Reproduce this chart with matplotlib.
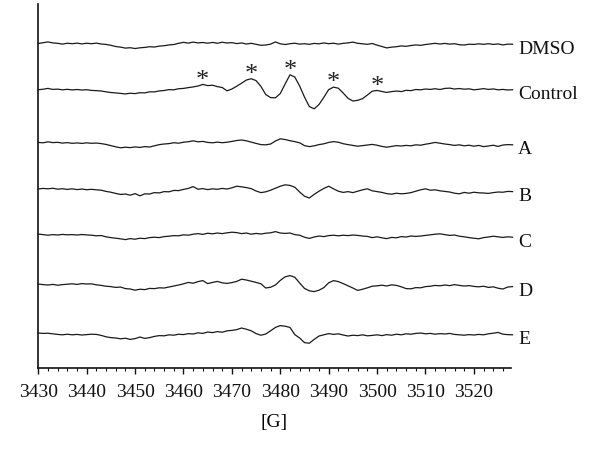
import numpy as np
import matplotlib
matplotlib.use('Agg')
import matplotlib.pyplot as plt
from matplotlib.ticker import MultipleLocator

# ----- DADOS (desvio de cada espectro em relação à sua linha de base)
campo = np.arange(3430, 3529)  # [G], passo de 1 G

dmso = [
    0.0, 0.8, 1.6, 0.6, 0.2, -0.6, 0.3, -0.2, 0.4, -0.4,
    0.3, -0.2, 0.4, -0.5, -0.9, -1.8, -3.0, -3.6, -4.6, -4.2,
    -5.0, -4.3, -3.9, -3.2, -3.5, -2.6, -2.2, -1.4, -1.0, 0.2,
    1.2, 0.4, 1.4, 0.6, 1.0, 0.3, 1.1, 0.2, 1.3, 0.5,
    0.9, -0.1, 0.6, -0.5, 0.2, -0.8, -1.8, -1.5, -0.6, 1.6,
    -0.3, -1.0, -0.2, 0.3, -0.6, -0.2, -0.8, 0.1, -0.3, 0.6,
    -0.2, 0.3, -0.6, 0.2, 0.6, 1.4, 0.2, -0.3, -0.8, 0.0,
    -1.6, -3.0, -4.4, -3.6, -3.2, -2.4, -2.8, -2.0, -1.4, -1.8,
    -1.0, -0.4, 0.2, -0.5, 0.1, -0.6, -0.2, -1.2, -1.5, -0.7,
    -0.9, -0.3, -0.8, -0.2, -0.9, -0.4, -1.4, -0.6, -0.7]

control = [
    0.3, 0.8, 1.6, 0.6, 0.9, 0.2, 0.7, 0.1, 0.5, 0.0,
    0.3, -0.4, -0.6, -1.0, -1.8, -2.5, -2.9, -3.4, -3.9, -3.2,
    -3.6, -2.7, -2.9, -1.8, -1.9, -0.9, -0.5, 0.4, 0.2, 1.3,
    1.6, 2.4, 3.1, 4.0, 5.6, 4.4, 4.8, 3.4, 2.5, -0.8,
    1.0, 3.8, 6.8, 10.0, 11.3, 9.4, 3.6, -4.5, -7.6, -7.8,
    -3.5, 6.0, 15.2, 13.0, 4.0, -7.0, -16.5, -18.8, -14.5, -7.3,
    0.4, 2.9, 1.8, -3.0, -8.3, -11.0, -10.3, -8.6, -5.0, -1.2,
    -0.4, -1.5, -2.4, -1.6, -1.0, -1.6, -0.3, -0.6, 0.5, 0.2,
    1.0, 0.6, 1.3, 0.5, 1.6, 1.9, 1.0, 1.5, 0.8, 1.2,
    0.2, 0.7, 1.4, 0.6, 1.1, 0.2, 0.6, 0.0, 0.3]

amostra_a = [
    0.6, 0.2, 1.2, 0.4, 0.7, -0.1, 0.4, -0.3, 0.1, -0.4,
    0.2, -0.3, 0.0, -0.6, -1.4, -2.6, -3.8, -4.8, -4.2, -4.6,
    -3.9, -4.4, -3.6, -4.0, -2.8, -1.6, -1.0, -0.6, 0.3, -0.2,
    0.8, 1.3, 2.2, 1.2, 1.6, 0.6, 0.2, 0.9, 0.3, 0.8,
    1.6, 2.5, 3.0, 2.2, 0.9, -0.4, -1.6, -1.8, -1.0, 2.0,
    4.2, 3.5, 2.3, 1.4, 0.2, -2.6, -3.6, -2.8, -1.6, -0.8,
    0.6, 1.4, 0.8, -0.7, -1.6, -2.4, -3.2, -2.6, -2.0, -1.4,
    -2.2, -3.4, -4.2, -3.4, -2.6, -3.0, -2.4, -2.8, -1.8, -2.2,
    -1.2, -0.4, 0.6, -0.2, -1.0, -1.6, -2.4, -1.8, -2.8, -2.2,
    -3.2, -2.4, -3.6, -3.0, -2.2, -3.4, -2.0, -1.6, -1.8]

amostra_b = [
    0.0, 0.6, 0.2, 0.8, -0.2, 0.3, -0.4, 0.2, -0.6, 0.0,
    -0.7, -0.3, -0.8, -1.2, -2.4, -3.2, -4.4, -5.4, -5.0, -6.2,
    -4.6, -6.8, -4.8, -5.0, -3.6, -3.9, -2.6, -2.8, -1.4, -1.6,
    -0.4, 0.6, 2.4, -0.2, 0.4, -0.6, 0.2, -0.3, 0.6, 0.0,
    1.2, 2.8, 2.2, 1.4, 0.4, -2.0, -3.6, -2.8, -1.2, 0.8,
    2.8, 4.2, 3.6, 1.8, -3.0, -7.2, -9.0, -5.4, -2.2, 0.6,
    2.8, 0.2, -2.2, -3.4, -2.6, -3.6, -2.2, -0.8, 0.2, -1.8,
    -2.6, -3.4, -4.6, -5.2, -4.2, -4.8, -4.4, -3.6, -2.2, -0.8,
    0.2, -1.2, -0.8, -1.8, -2.4, -3.0, -4.2, -4.8, -3.4, -4.2,
    -3.2, -3.8, -4.0, -4.4, -3.6, -3.0, -3.2, -2.4, -2.6]

amostra_c = [
    0.0, -0.6, -1.2, -0.6, -1.0, -0.4, -0.8, -0.6, -1.0, -0.5,
    -0.9, -1.2, -1.8, -1.5, -2.8, -3.6, -4.2, -4.8, -5.6, -4.6,
    -5.2, -4.2, -4.6, -3.6, -3.2, -3.6, -2.6, -2.2, -1.6, -1.8,
    -0.8, -1.2, -0.2, 0.4, -0.4, 0.8, 0.2, 1.0, 0.4, 1.2,
    1.8, 1.4, 0.4, 1.0, -0.2, 0.6, 0.0, 0.8, 1.2, 2.4,
    1.0, 0.6, 1.0, -0.6, -1.2, -3.2, -4.4, -3.0, -2.0, -2.6,
    -1.6, -1.2, -1.8, -1.2, -1.6, -1.0, -1.4, -2.0, -2.4, -3.6,
    -2.8, -3.8, -4.6, -3.4, -3.8, -2.6, -3.0, -2.0, -2.4, -2.0,
    -1.4, -0.8, -0.2, 0.2, -0.6, -1.4, -1.0, -2.2, -2.8, -3.6,
    -4.2, -4.8, -3.6, -3.0, -2.2, -2.8, -3.4, -2.8, -3.2]

amostra_d = [
    0.0, -0.6, -1.0, -0.4, -1.2, -0.6, -0.2, 0.2, -0.4, 0.4,
    0.0, 0.2, -0.8, -1.4, -2.2, -2.6, -3.4, -3.0, -4.6, -5.0,
    -6.2, -5.2, -5.6, -4.4, -4.6, -3.8, -4.0, -3.0, -2.0, -1.0,
    0.2, 1.6, 0.8, 2.4, 3.4, 0.4, 1.6, 2.6, 1.2, 0.6,
    1.4, 2.6, 4.8, 4.0, 2.8, 1.6, 0.2, -4.0, -3.2, -1.0,
    3.6, 7.2, 8.4, 6.8, 1.0, -4.4, -6.8, -7.6, -6.2, -3.6,
    1.2, 3.4, 2.4, 0.4, -1.8, -4.0, -6.4, -5.2, -3.8, -2.2,
    -1.8, -1.2, -2.0, -0.8, -1.4, -2.8, -4.6, -4.8, -3.6, -3.8,
    -2.6, -2.2, -1.4, -1.8, -1.0, -1.6, -0.6, -1.4, -2.0, -1.6,
    -2.4, -2.8, -2.2, -3.4, -2.8, -4.2, -5.0, -3.0, -2.6]

amostra_e = [
    0.0, -0.4, -0.2, -0.8, -1.4, -1.8, -1.2, -1.8, -1.4, -2.0,
    -1.6, -1.2, -1.4, -2.4, -3.8, -4.6, -5.0, -5.8, -5.2, -6.4,
    -5.6, -4.0, -5.4, -4.6, -3.4, -2.6, -2.8, -1.8, -2.2, -1.2,
    -1.6, -0.6, -1.0, 0.2, -0.4, 1.0, 0.4, 1.4, 0.8, 2.2,
    2.6, 3.4, 5.0, 3.8, 2.2, -0.6, -2.2, -1.0, 2.2, 5.6,
    7.4, 6.8, 5.6, -1.6, -5.0, -9.6, -10.2, -6.4, -3.0, -1.8,
    -0.6, -1.4, -0.8, -2.0, -3.0, -2.2, -2.6, -1.8, -2.8, -2.4,
    -1.8, -2.6, -1.6, -2.2, -1.2, -1.8, -0.8, -1.2, -0.4, 0.0,
    -0.8, -0.4, -1.2, -0.6, -1.0, -0.4, -1.4, -1.8, -2.2, -1.6,
    -2.0, -1.4, -1.8, -0.8, -0.2, 0.6, -1.2, -1.6, -1.8]

rotulos = ["DMSO", "Control", "A", "B", "C", "D", "E"]
espectros = [dmso, control, amostra_a, amostra_b, amostra_c, amostra_d, amostra_e]

# picos do controle marcados com asterisco
picos_marcados = [3464, 3474, 3482, 3491, 3500]

# deslocamento vertical de cada espectro (empilhado)
deslocamentos = [324.5, 278, 225, 179, 134, 84, 35]

plt.rcParams['font.family'] = ['Liberation Serif', 'DejaVu Serif']

fig = plt.figure(figsize=(6, 4.52), dpi=100)
ax = fig.add_axes([0.0638, 0.1836, 0.7873, 0.8053])

cor = '#1a1a1a'
for nome, y, off in zip(rotulos, espectros, deslocamentos):
    assert len(y) == len(campo)
    yy = np.array(y) + off
    ax.plot(campo, yy, color=cor, lw=0.9, clip_on=False)
    ax.annotate(nome, xy=(campo[-1], yy[-1]), xytext=(4, -1.5),
                textcoords='offset points', va='center_baseline',
                ha='left', fontsize=14, color='#111111',
                annotation_clip=False)

# ----- ASTERISCOS
ctrl = np.array(control)
for p in picos_marcados:
    janela = np.abs(campo - p) <= 1
    topo = ctrl[janela].max() + deslocamentos[1]
    ax.annotate('*', xy=(p, topo), xytext=(0, -4.5), textcoords='offset points',
                ha='center', va='bottom', fontsize=19, color='#222222')

ax.set_xlim(3430, 3527.6)
ax.set_ylim(0, 364)

for lado in ['top', 'right']:
    ax.spines[lado].set_visible(False)
ax.spines['left'].set_linewidth(1.2)
ax.spines['bottom'].set_linewidth(1.2)
ax.spines['left'].set_color('#111111')
ax.spines['bottom'].set_color('#111111')

ax.set_yticks([])
ax.xaxis.set_major_locator(MultipleLocator(10))
ax.xaxis.set_minor_locator(MultipleLocator(2))
ax.tick_params(axis='x', which='major', length=4, width=1.0,
               labelsize=14, pad=7, colors='#111111')
ax.tick_params(axis='x', which='minor', length=2.2, width=0.8,
               colors='#111111')
ax.set_xlabel("[G]", fontsize=14, labelpad=9)

fig.savefig("out.png", dpi=100)
